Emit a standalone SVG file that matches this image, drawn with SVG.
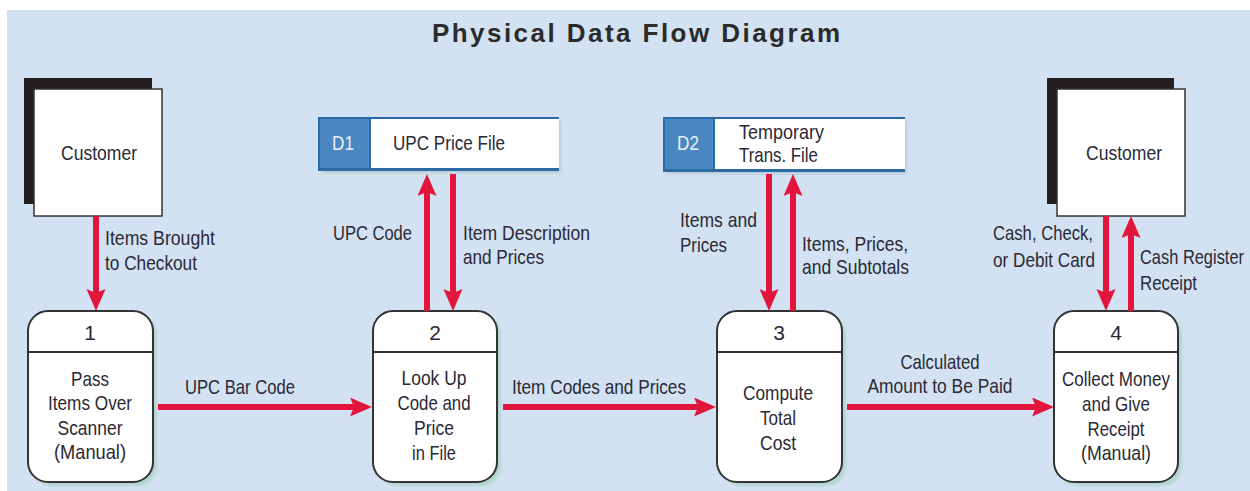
<svg xmlns="http://www.w3.org/2000/svg" width="1250" height="491" viewBox="0 0 1250 491">
<style>
.t{font-family:"Liberation Sans",Arial,sans-serif;font-size:21px;fill:#2a2935}
.c{text-anchor:middle}
.e{text-anchor:end}
.w{fill:#e9f0f8}
.title{font-family:"Liberation Sans",Arial,sans-serif;font-size:26px;font-weight:bold;fill:#2b2b2b;text-anchor:middle}
.flow{stroke:#e2163c;stroke-width:6;fill:none;marker-end:url(#ah)}
.proc{fill:#fff;stroke:#333;stroke-width:2}
.shadow{fill:#b3d5cf;filter:url(#blur)}
.ext{fill:#fff;stroke:#333;stroke-width:1.5}
.extsh{fill:#231f20}
.storeb{fill:#4a87c0}
.storeline{stroke:#2c6aa3;fill:none}
</style>
<defs>
<marker id="ah" markerUnits="userSpaceOnUse" markerWidth="24" markerHeight="20" refX="8" refY="9.5" orient="auto">
<path d="M0,0 L22,9.5 L0,19 L4,9.5 z" fill="#e2163c"/>
</marker>
<filter id="blur" x="-10%" y="-10%" width="120%" height="120%"><feGaussianBlur stdDeviation="1.5"/></filter>
</defs>
<rect x="7" y="10" width="1243" height="481" fill="#d3e2f2"/>
<text class="title" x="636" y="42" textLength="408" lengthAdjust="spacing">Physical Data Flow Diagram</text>

<g id="customer1">
<rect class="extsh" x="24" y="78" width="128" height="126"/>
<rect class="ext" x="34" y="89" width="128" height="127"/>
<text class="t c" x="99" y="160" textLength="76" lengthAdjust="spacingAndGlyphs">Customer</text>
</g>

<g id="customer2">
<rect class="extsh" x="1047" y="78" width="127" height="126"/>
<rect class="ext" x="1057" y="89" width="128" height="127"/>
<text class="t c" x="1124" y="160" textLength="76" lengthAdjust="spacingAndGlyphs">Customer</text>
</g>

<g id="d1">
<rect x="321" y="120" width="240" height="53" fill="#b9cbd9" filter="url(#blur)"/>
<rect x="318" y="117" width="52" height="53" class="storeb"/>
<rect x="370" y="117" width="189" height="53" fill="#fff"/>
<path class="storeline" d="M559,118 H319 V169 H559" stroke-width="2"/>
<path class="storeline" d="M318,169.5 H559" stroke-width="3"/>
<path class="storeline" d="M370,117 V170" stroke-width="2"/>
<text class="t c w" x="343" y="150" textLength="22" lengthAdjust="spacingAndGlyphs">D1</text>
<text class="t" x="393" y="150" textLength="112" lengthAdjust="spacingAndGlyphs">UPC Price File</text>
</g>

<g id="d2">
<rect x="666" y="120" width="241" height="54" fill="#b9cbd9" filter="url(#blur)"/>
<rect x="663" y="117" width="51" height="54" class="storeb"/>
<rect x="714" y="117" width="191" height="54" fill="#fff"/>
<path class="storeline" d="M905,118 H664 V170 H905" stroke-width="2"/>
<path class="storeline" d="M663,170.5 H905" stroke-width="3"/>
<path class="storeline" d="M714,117 V171" stroke-width="2"/>
<text class="t c w" x="688" y="150" textLength="22" lengthAdjust="spacingAndGlyphs">D2</text>
<text class="t" x="739" y="139" textLength="85" lengthAdjust="spacingAndGlyphs">Temporary</text>
<text class="t" x="739" y="162" textLength="79" lengthAdjust="spacingAndGlyphs">Trans. File</text>
</g>

<g id="p1">
<rect class="shadow" x="32" y="315" width="125" height="171" rx="20"/>
<rect class="proc" x="28" y="311" width="125" height="171" rx="20"/>
<line x1="28" y1="352" x2="153" y2="352" stroke="#333" stroke-width="2"/>
<text class="t c" x="90" y="340">1</text>
<text class="t c" x="90" y="386" textLength="38" lengthAdjust="spacingAndGlyphs">Pass</text>
<text class="t c" x="90" y="410" textLength="84" lengthAdjust="spacingAndGlyphs">Items Over</text>
<text class="t c" x="90" y="435" textLength="65" lengthAdjust="spacingAndGlyphs">Scanner</text>
<text class="t c" x="90" y="459" textLength="72" lengthAdjust="spacingAndGlyphs">(Manual)</text>
</g>

<g id="p2">
<rect class="shadow" x="377" y="315" width="124" height="171" rx="20"/>
<rect class="proc" x="373" y="311" width="124" height="171" rx="20"/>
<line x1="373" y1="352" x2="497" y2="352" stroke="#333" stroke-width="2"/>
<text class="t c" x="435" y="340">2</text>
<text class="t c" x="434" y="385" textLength="65" lengthAdjust="spacingAndGlyphs">Look Up</text>
<text class="t c" x="434" y="410" textLength="73" lengthAdjust="spacingAndGlyphs">Code and</text>
<text class="t c" x="434" y="435" textLength="40" lengthAdjust="spacingAndGlyphs">Price</text>
<text class="t c" x="434" y="460" textLength="44" lengthAdjust="spacingAndGlyphs">in File</text>
</g>

<g id="p3">
<rect class="shadow" x="721" y="315" width="125" height="171" rx="20"/>
<rect class="proc" x="717" y="311" width="125" height="171" rx="20"/>
<line x1="717" y1="352" x2="842" y2="352" stroke="#333" stroke-width="2"/>
<text class="t c" x="779" y="340">3</text>
<text class="t c" x="778" y="400" textLength="70" lengthAdjust="spacingAndGlyphs">Compute</text>
<text class="t c" x="778" y="425" textLength="36" lengthAdjust="spacingAndGlyphs">Total</text>
<text class="t c" x="778" y="450" textLength="36" lengthAdjust="spacingAndGlyphs">Cost</text>
</g>

<g id="p4">
<rect class="shadow" x="1058" y="315" width="124" height="171" rx="20"/>
<rect class="proc" x="1054" y="311" width="124" height="171" rx="20"/>
<line x1="1054" y1="352" x2="1178" y2="352" stroke="#333" stroke-width="2"/>
<text class="t c" x="1116" y="340">4</text>
<text class="t c" x="1116" y="386" textLength="108" lengthAdjust="spacingAndGlyphs">Collect Money</text>
<text class="t c" x="1116" y="411" textLength="68" lengthAdjust="spacingAndGlyphs">and Give</text>
<text class="t c" x="1116" y="436" textLength="57" lengthAdjust="spacingAndGlyphs">Receipt</text>
<text class="t c" x="1116" y="460" textLength="70" lengthAdjust="spacingAndGlyphs">(Manual)</text>
</g>

<g id="connectors">
<path class="flow" d="M96,216 V297"/>
<path class="flow" d="M158,407 H358"/>
<path class="flow" d="M427,311 V188"/>
<path class="flow" d="M453,174 V297"/>
<path class="flow" d="M503,407 H702"/>
<path class="flow" d="M769,174 V297"/>
<path class="flow" d="M793,311 V188"/>
<path class="flow" d="M847,407 H1040"/>
<path class="flow" d="M1106,216 V297"/>
<path class="flow" d="M1131,311 V230"/>
<text class="t" x="105" y="245" textLength="110" lengthAdjust="spacingAndGlyphs">Items Brought</text>
<text class="t" x="105" y="270" textLength="92" lengthAdjust="spacingAndGlyphs">to Checkout</text>
<text class="t c" x="240" y="394" textLength="110" lengthAdjust="spacingAndGlyphs">UPC Bar Code</text>
<text class="t e" x="412" y="240" textLength="79" lengthAdjust="spacingAndGlyphs">UPC Code</text>
<text class="t" x="463" y="240" textLength="127" lengthAdjust="spacingAndGlyphs">Item Description</text>
<text class="t" x="463" y="264" textLength="81" lengthAdjust="spacingAndGlyphs">and Prices</text>
<text class="t c" x="599" y="394" textLength="174" lengthAdjust="spacingAndGlyphs">Item Codes and Prices</text>
<text class="t" x="680" y="227" textLength="77" lengthAdjust="spacingAndGlyphs">Items and</text>
<text class="t" x="680" y="252" textLength="47" lengthAdjust="spacingAndGlyphs">Prices</text>
<text class="t" x="802" y="251" textLength="106" lengthAdjust="spacingAndGlyphs">Items, Prices,</text>
<text class="t" x="802" y="274" textLength="107" lengthAdjust="spacingAndGlyphs">and Subtotals</text>
<text class="t c" x="940" y="369" textLength="79" lengthAdjust="spacingAndGlyphs">Calculated</text>
<text class="t c" x="940" y="393" textLength="145" lengthAdjust="spacingAndGlyphs">Amount to Be Paid</text>
<text class="t" x="993" y="240" textLength="100" lengthAdjust="spacingAndGlyphs">Cash, Check,</text>
<text class="t" x="993" y="267" textLength="102" lengthAdjust="spacingAndGlyphs">or Debit Card</text>
<text class="t" x="1140" y="264" textLength="104" lengthAdjust="spacingAndGlyphs">Cash Register</text>
<text class="t" x="1140" y="290" textLength="57" lengthAdjust="spacingAndGlyphs">Receipt</text>
</g>
</svg>
